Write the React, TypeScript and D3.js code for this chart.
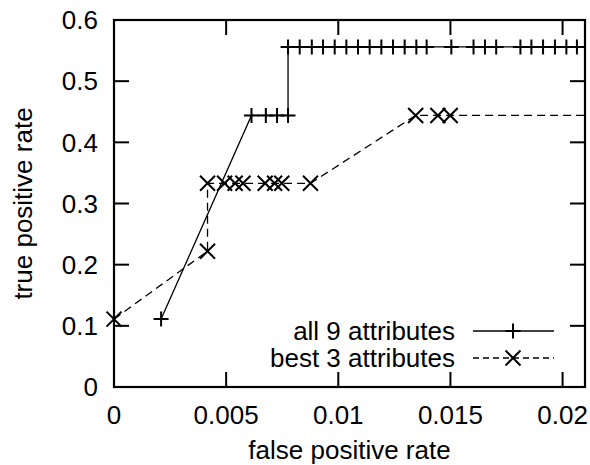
import * as d3 from "d3";

// ROC curves: true positive rate vs false positive rate, two attribute sets.

const FONT = "'Liberation Sans', Arial, Helvetica, sans-serif";

const xTicks = [0, 0.005, 0.01, 0.015, 0.02];
const xTickLabels = ["0", "0.005", "0.01", "0.015", "0.02"];
const yTicks = [0, 0.1, 0.2, 0.3, 0.4, 0.5, 0.6];
const yTickLabels = ["0", "0.1", "0.2", "0.3", "0.4", "0.5", "0.6"];

// all 9 attributes (last point lies past the right edge, line is clipped)
const all9Fpr = [
  0.0021, 0.00613, 0.00677, 0.00727, 0.00776, 0.00776, 0.00828, 0.00882,
  0.00932, 0.00984, 0.01036, 0.01088, 0.0114, 0.01192, 0.01244, 0.01296,
  0.01348, 0.01394, 0.01504, 0.01603, 0.01654, 0.01704, 0.01812, 0.01861,
  0.01913, 0.01966, 0.02017, 0.02064, 0.0216,
];
const all9Tpr = [
  0.111, 0.444, 0.444, 0.444, 0.444, 0.556, 0.556, 0.556, 0.556, 0.556,
  0.556, 0.556, 0.556, 0.556, 0.556, 0.556, 0.556, 0.556, 0.556, 0.556,
  0.556, 0.556, 0.556, 0.556, 0.556, 0.556, 0.556, 0.556, 0.556,
];

// best 3 attributes
const best3Fpr = [
  0, 0.00417, 0.00417, 0.00493, 0.0054, 0.00575, 0.00674, 0.00716, 0.00748,
  0.00876, 0.01345, 0.01444, 0.01499, 0.0216,
];
const best3Tpr = [
  0.111, 0.222, 0.333, 0.333, 0.333, 0.333, 0.333, 0.333, 0.333, 0.333,
  0.444, 0.444, 0.444, 0.444,
];

const legendLabels = ["all 9 attributes", "best 3 attributes"];

const W = 590;
const H = 465;
const M = { left: 114, right: 585, top: 20, bottom: 387 };
const TICK = 15;
const FS = 26;
const BASE = 9.3; // baseline offset that centres digits on a y

function Plus({ x, y, s = 7.5 }: { x: number; y: number; s?: number }) {
  return (
    <path
      d={`M${x - s},${y}H${x + s}M${x},${y - s}V${y + s}`}
      stroke="#000"
      strokeWidth={2}
      fill="none"
    />
  );
}

function Cross({ x, y, s = 7.5 }: { x: number; y: number; s?: number }) {
  return (
    <path
      d={`M${x - s},${y - s}L${x + s},${y + s}M${x - s},${y + s}L${x + s},${y - s}`}
      stroke="#000"
      strokeWidth={2}
      fill="none"
    />
  );
}

export default function App() {
  const x = d3.scaleLinear().domain([0, 0.021]).range([M.left, M.right]);
  const y = d3.scaleLinear().domain([0, 0.6]).range([M.bottom, M.top]);
  const line = d3
    .line<[number, number]>()
    .x((d) => x(d[0]))
    .y((d) => y(d[1]));

  const all9 = all9Fpr.map((f, i) => [f, all9Tpr[i]] as [number, number]);
  const best3 = best3Fpr.map((f, i) => [f, best3Tpr[i]] as [number, number]);
  const inside = (d: [number, number]) => d[0] <= 0.021;

  const legendRows = [
    { y: 331, dash: undefined as string | undefined, M: Plus },
    { y: 358, dash: "6,4", M: Cross },
  ];

  return (
    <svg
      width={W}
      height={H}
      style={{ position: "absolute", left: 0, top: 0, background: "#fff" }}
      fontFamily={FONT}
    >
      <rect width={W} height={H} fill="#fff" />
      <defs>
        <clipPath id="plot">
          <rect x={M.left} y={M.top} width={M.right - M.left} height={M.bottom - M.top} />
        </clipPath>
      </defs>

      {/* ticks on all four sides, pointing inward */}
      {xTicks.map((t, i) => (
        <g key={"x" + i}>
          <line x1={x(t)} x2={x(t)} y1={M.bottom} y2={M.bottom - TICK} stroke="#000" strokeWidth={2} />
          <line x1={x(t)} x2={x(t)} y1={M.top} y2={M.top + TICK} stroke="#000" strokeWidth={2} />
          <text x={x(t)} y={M.bottom + 37} fontSize={FS} textAnchor="middle">
            {xTickLabels[i]}
          </text>
        </g>
      ))}
      {yTicks.map((t, i) => (
        <g key={"y" + i}>
          <line x1={M.left} x2={M.left + TICK} y1={y(t)} y2={y(t)} stroke="#000" strokeWidth={2} />
          <line x1={M.right} x2={M.right - TICK} y1={y(t)} y2={y(t)} stroke="#000" strokeWidth={2} />
          <text x={98} y={y(t) + BASE} fontSize={FS} textAnchor="end">
            {yTickLabels[i]}
          </text>
        </g>
      ))}

      <g clipPath="url(#plot)">
        <path d={line(all9) ?? ""} fill="none" stroke="#000" strokeWidth={1.3} />
        <path d={line(best3) ?? ""} fill="none" stroke="#000" strokeWidth={1.3} strokeDasharray="8,5" />
      </g>
      {all9.filter(inside).map((d, i) => (
        <Plus key={"p" + i} x={x(d[0])} y={y(d[1])} />
      ))}
      {best3.filter(inside).map((d, i) => (
        <Cross key={"c" + i} x={x(d[0])} y={y(d[1])} />
      ))}

      {/* legend */}
      {legendRows.map((r, i) => (
        <g key={"l" + i}>
          <text x={455} y={r.y + BASE} fontSize={FS} textAnchor="end">
            {legendLabels[i]}
          </text>
          <line x1={473} x2={554} y1={r.y} y2={r.y} stroke="#000" strokeWidth={1.3} strokeDasharray={r.dash} />
          <r.M x={513} y={r.y} />
        </g>
      ))}

      <rect
        x={M.left}
        y={M.top}
        width={M.right - M.left}
        height={M.bottom - M.top}
        fill="none"
        stroke="#000"
        strokeWidth={2.2}
      />

      <text x={(M.left + M.right) / 2} y={459} fontSize={FS} textAnchor="middle">
        false positive rate
      </text>
      <text
        transform={`translate(32,${(M.top + M.bottom) / 2}) rotate(-90)`}
        fontSize={FS}
        textAnchor="middle"
      >
        true positive rate
      </text>
    </svg>
  );
}
